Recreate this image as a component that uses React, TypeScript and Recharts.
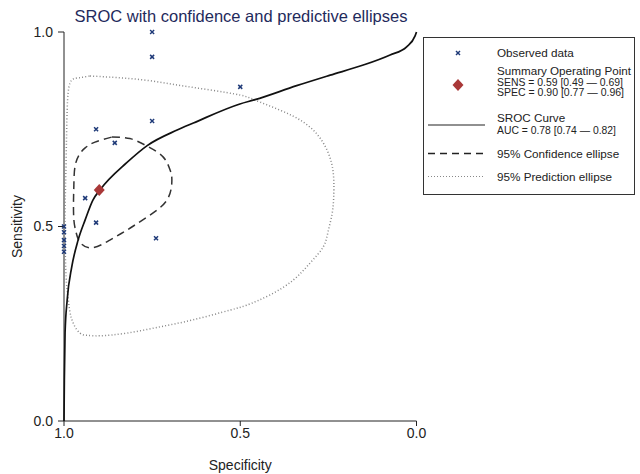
import { ScatterChart, Scatter, XAxis, YAxis, Legend } from 'recharts';

const FONT = '"Liberation Sans", Arial, Helvetica, sans-serif';
const NAVY = '#1f3a78';
const RED = '#a93838';

// [specificity, sensitivity]
const observed = [
  [0.75, 1.0], [0.75, 0.936], [0.5, 0.859], [0.75, 0.771], [0.909, 0.75],
  [0.856, 0.715], [0.94, 0.573], [0.909, 0.51], [0.739, 0.47],
  [1.0, 0.5], [1.0, 0.485], [1.0, 0.465], [1.0, 0.45], [1.0, 0.435],
];

const summaryPoint = [[0.9, 0.594]];

const srocCurve = [
  [1.0, 0.0], [0.999, 0.105], [0.997, 0.226], [0.991, 0.311], [0.978, 0.396],
  [0.96, 0.465], [0.94, 0.517], [0.918, 0.568], [0.898, 0.594], [0.822, 0.664],
  [0.764, 0.708], [0.679, 0.748], [0.633, 0.766], [0.501, 0.815], [0.458, 0.826],
  [0.34, 0.862], [0.245, 0.889], [0.151, 0.915], [0.075, 0.941], [0.028, 0.962],
  [0.004, 0.99], [0.0, 1.0],
];

const confEllipse = [
  [0.864, 0.73], [0.813, 0.726], [0.765, 0.707], [0.719, 0.679], [0.699, 0.645],
  [0.694, 0.62], [0.708, 0.568], [0.765, 0.524], [0.821, 0.491], [0.87, 0.465],
  [0.921, 0.445], [0.955, 0.46], [0.966, 0.486], [0.972, 0.517], [0.973, 0.568],
  [0.972, 0.607], [0.969, 0.653], [0.957, 0.684], [0.94, 0.702], [0.912, 0.717],
  [0.864, 0.73],
];

const predEllipse = [
  [0.926, 0.887], [0.87, 0.884], [0.776, 0.877],
  [0.68, 0.864], [0.586, 0.851], [0.501, 0.838], [0.458, 0.825], [0.387, 0.799],
  [0.322, 0.769], [0.274, 0.728], [0.245, 0.676], [0.235, 0.625], [0.235, 0.573],
  [0.24, 0.53], [0.251, 0.486], [0.265, 0.447], [0.302, 0.406], [0.35, 0.362],
  [0.416, 0.324], [0.481, 0.298], [0.529, 0.285], [0.634, 0.26], [0.728, 0.242],
  [0.821, 0.226], [0.898, 0.219], [0.932, 0.22], [0.955, 0.226], [0.974, 0.252],
  [0.984, 0.285], [0.99, 0.329], [0.994, 0.37], [0.997, 0.458], [0.997, 0.542],
  [0.994, 0.671], [0.991, 0.8], [0.983, 0.869], [0.96, 0.882], [0.926, 0.887],
];

const axisTicks = [0, 0.5, 1];

const toRows = (pairs: number[][]) => pairs.map(([spec, sens]) => ({ spec, sens }));

const Cross = ({ cx, cy }: any) => (
  <g stroke={NAVY} strokeWidth={1.5}>
    <line x1={cx - 2} y1={cy - 2} x2={cx + 2} y2={cy + 2} />
    <line x1={cx - 2} y1={cy + 2} x2={cx + 2} y2={cy - 2} />
  </g>
);

const Diamond = ({ cx, cy }: any) => (
  <polygon points={`${cx},${cy - 6} ${cx + 5.5},${cy} ${cx},${cy + 6} ${cx - 5.5},${cy}`} fill={RED} />
);

const NoDot = () => <g />;

const YLabel = ({ viewBox }: any) => (
  <text
    x={22}
    y={viewBox.y + viewBox.height / 2}
    transform={`rotate(-90 22 ${viewBox.y + viewBox.height / 2})`}
    textAnchor="middle"
    fontSize={14}
    fontFamily={FONT}
    fill="#222"
  >
    Sensitivity
  </text>
);

function LegendBox() {
  const tx = 74;
  const txt = { fontSize: 11.7, fontFamily: FONT, fill: '#222' };
  const small = { fontSize: 11, fontFamily: FONT, fill: '#222', lengthAdjust: 'spacingAndGlyphs' as const };
  return (
    <svg width={213} height={158} style={{ display: 'block' }}>
      <rect x={0.5} y={0.5} width={211} height={157} fill="#fff" stroke="#333" />
      <Cross cx={35} cy={16} />
      <text x={tx} y={20} {...txt}>Observed data</text>
      <Diamond cx={35} cy={48} />
      <text x={tx} y={38.2} {...small} textLength={134}>Summary Operating Point</text>
      <text x={tx} y={48.6} {...small} textLength={126}>SENS = 0.59 [0.49 — 0.69]</text>
      <text x={tx} y={59} {...small} textLength={127}>SPEC = 0.90 [0.77 — 0.96]</text>
      <line x1={5} y1={88} x2={62} y2={88} stroke="#222" strokeWidth={1.2} />
      <text x={tx} y={85.3} {...txt}>SROC Curve</text>
      <text x={tx} y={96.7} {...small} textLength={119}>AUC = 0.78 [0.74 — 0.82]</text>
      <line x1={5} y1={116.5} x2={62} y2={116.5} stroke="#222" strokeWidth={1.4} strokeDasharray="7 5" />
      <text x={tx} y={120.7} {...txt}>95% Confidence ellipse</text>
      <line x1={5} y1={139.5} x2={62} y2={139.5} stroke="#888" strokeWidth={1.2} strokeDasharray="1 2" />
      <text x={tx} y={144} {...txt}>95% Prediction ellipse</text>
    </svg>
  );
}

export default function App() {
  return (
    <div style={{ position: 'absolute', left: 0, top: 0, width: 640, height: 474, background: '#fff' }}>
      <div
        style={{
          position: 'absolute', left: 0, top: 8, width: 482, textAlign: 'center',
          fontFamily: FONT, fontSize: 16.5, lineHeight: '17px', color: '#1f2a5c',
        }}
      >
        SROC with confidence and predictive ellipses
      </div>
      <ScatterChart width={640} height={474} margin={{ top: 32, right: 223.5, bottom: 0, left: 0 }}>
        <XAxis
          type="number"
          dataKey="spec"
          domain={[0, 1]}
          reversed
          ticks={axisTicks}
          tickFormatter={(v: number) => v.toFixed(1)}
          height={53}
          tickSize={5}
          tickMargin={2}
          stroke="#222"
          tick={{ fill: '#222', fontSize: 14, fontFamily: FONT }}
          label={{ value: 'Specificity', position: 'insideBottom', offset: 4, fill: '#222', fontSize: 14, fontFamily: FONT }}
        />
        <YAxis
          type="number"
          dataKey="sens"
          domain={[0, 1]}
          ticks={axisTicks}
          tickFormatter={(v: number) => v.toFixed(1)}
          width={64}
          tickSize={6}
          tickMargin={5}
          stroke="#222"
          tick={{ fill: '#222', fontSize: 14, fontFamily: FONT }}
          label={{ content: YLabel }}
        />
        <Legend
          layout="vertical"
          align="center"
          verticalAlign="middle"
          content={LegendBox}
          wrapperStyle={{ left: 423, top: 37, width: 213, height: 158 }}
        />
        <Scatter
          data={toRows(predEllipse)}
          shape={NoDot}
          line={{ stroke: '#888', strokeWidth: 1.5, strokeDasharray: '1 2.2' }}
          lineType="joint"
          lineJointType="natural"
          isAnimationActive={false}
        />
        <Scatter
          data={toRows(confEllipse)}
          shape={NoDot}
          line={{ stroke: '#333', strokeWidth: 1.5, strokeDasharray: '8 5' }}
          lineType="joint"
          lineJointType="natural"
          isAnimationActive={false}
        />
        <Scatter
          data={toRows(srocCurve)}
          shape={NoDot}
          line={{ stroke: '#111', strokeWidth: 1.7 }}
          lineType="joint"
          lineJointType="monotoneX"
          isAnimationActive={false}
        />
        <Scatter data={toRows(observed)} shape={Cross} isAnimationActive={false} />
        <Scatter data={toRows(summaryPoint)} shape={Diamond} isAnimationActive={false} />
      </ScatterChart>
    </div>
  );
}
